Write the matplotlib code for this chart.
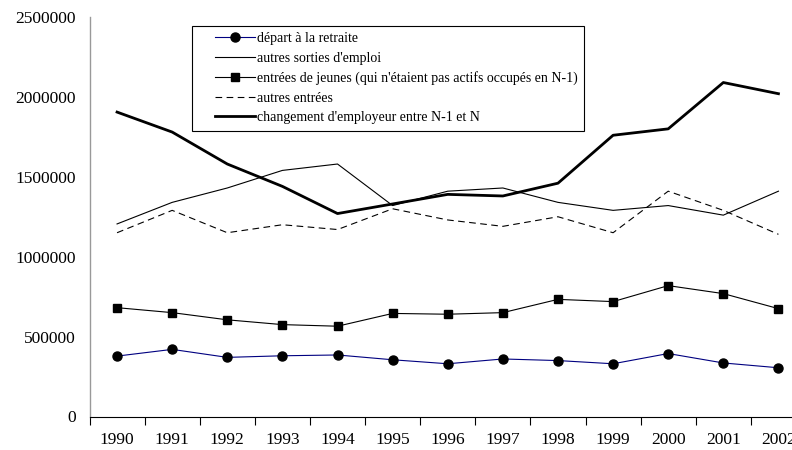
import matplotlib
matplotlib.use("Agg")
import matplotlib.pyplot as plt
from matplotlib.legend_handler import HandlerLine2D

years = ["1990", "1991", "1992", "1993", "1994", "1995", "1996",
         "1997", "1998", "1999", "2000", "2001", "2002"]

depart_retraite = [378000, 420000, 370000, 380000, 385000, 355000, 330000,
                   360000, 350000, 330000, 394000, 335000, 305000]
autres_sorties = [1205000, 1340000, 1430000, 1540000, 1580000, 1320000, 1410000,
                  1430000, 1340000, 1290000, 1320000, 1260000, 1410000]
entrees_jeunes = [681000, 650000, 605000, 575000, 565000, 645000, 640000,
                  650000, 733000, 719000, 819000, 769000, 675000]
autres_entrees = [1150000, 1290000, 1150000, 1200000, 1170000, 1300000, 1230000,
                  1190000, 1250000, 1150000, 1410000, 1290000, 1140000]
changement_employeur = [1905000, 1780000, 1580000, 1440000, 1270000, 1330000, 1390000,
                        1380000, 1460000, 1760000, 1800000, 2090000, 2020000]

series_labels = ["départ à la retraite",
                 "autres sorties d'emploi",
                 "entrées de jeunes (qui n'étaient pas actifs occupés en N-1)",
                 "autres entrées",
                 "changement d'employeur entre N-1 et N"]

y_ticks = [0, 500000, 1000000, 1500000, 2000000, 2500000]

plt.rcParams["font.family"] = ["Liberation Serif", "DejaVu Serif"]
plt.rcParams["font.size"] = 10


class InsetKeyHandler(HandlerLine2D):
    """Line key that starts a little to the right of the legend border."""

    def __init__(self, lead=1.2, **kw):
        super().__init__(**kw)
        self.lead = lead

    def create_artists(self, legend, orig_handle, xdescent, ydescent,
                       width, height, fontsize, trans):
        shift = self.lead * fontsize
        return super().create_artists(legend, orig_handle, xdescent - shift,
                                      ydescent, width - shift, height,
                                      fontsize, trans)


W, H = 792, 450
fig = plt.figure(figsize=(W / 100, H / 100), dpi=100)
ax_left, ax_right, ax_top, ax_bottom = 89.5, 806.0, 17.0, 416.5
ax = fig.add_axes([ax_left / W, 1 - ax_bottom / H,
                   (ax_right - ax_left) / W, (ax_bottom - ax_top) / H])

x = list(range(len(years)))

ax.plot(x, depart_retraite, color="#000080", lw=0.8, marker="o", ms=6.5,
        mfc="black", mec="black", label=series_labels[0])
ax.plot(x, autres_sorties, color="black", lw=0.8, label=series_labels[1])
ax.plot(x, entrees_jeunes, color="black", lw=0.8, marker="s", ms=6,
        label=series_labels[2])
ax.plot(x, autres_entrees, color="black", lw=0.8, ls=(0, (6, 4)),
        label=series_labels[3])
ax.plot(x, changement_employeur, color="black", lw=2.0,
        label=series_labels[4])

ax.set_xlim(-0.5, len(years) - 0.5)
ax.set_ylim(0, 2500000)

# category ticks sit between years; year labels are centred on the points
ax.set_xticks([i - 0.5 for i in range(len(years) + 1)])
ax.set_xticklabels([])
ax.set_xticks(x, minor=True)
ax.set_xticklabels(years, minor=True, fontsize=12.5)
ax.tick_params(axis="x", which="major", direction="out", length=6, width=0.8)
ax.tick_params(axis="x", which="minor", length=0, pad=11)

ax.set_yticks(y_ticks)
ax.set_yticklabels([str(v) for v in y_ticks], fontsize=12.5)
ax.tick_params(axis="y", length=0, pad=10)

for side in ("top", "right"):
    ax.spines[side].set_visible(False)
ax.spines["left"].set_color("#999999")
ax.spines["left"].set_linewidth(1.0)
ax.spines["bottom"].set_color("black")
ax.spines["bottom"].set_linewidth(0.8)

handles, labels = ax.get_legend_handles_labels()
leg = ax.legend(handles, labels, loc="upper left",
                bbox_to_anchor=(192 / W, 1 - 26 / H),
                bbox_transform=fig.transFigure,
                handler_map={h: InsetKeyHandler(lead=1.2) for h in handles},
                fancybox=False, framealpha=1, edgecolor="black",
                fontsize=10, handlelength=4.1, handletextpad=0.15,
                borderpad=0.45, labelspacing=0.47, borderaxespad=0)
leg.get_frame().set_linewidth(0.8)

fig.savefig("out.png", dpi=100)
